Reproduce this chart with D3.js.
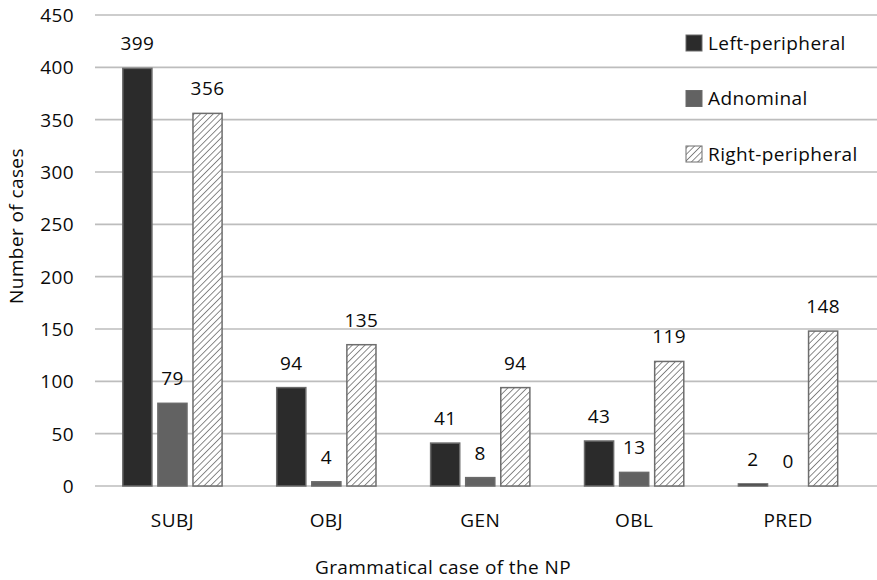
<!DOCTYPE html>
<html><head><meta charset="utf-8">
<script src="https://cdn.jsdelivr.net/npm/d3@7"></script>
<style>body{margin:0;background:#fff}svg{display:block}text{font-family:"Open Sans",sans-serif;fill:#0a0a0a;letter-spacing:0.4px}</style>
</head><body><svg id="c" width="877" height="580"></svg>
<script>
const categories = ["SUBJ","OBJ","GEN","OBL","PRED"];
const seriesNames = ["Left-peripheral","Adnominal","Right-peripheral"];
const leftPeripheral = [399,94,41,43,2];
const adnominal = [79,4,8,13,0];
const rightPeripheral = [356,135,94,119,148];
const yTicks = [0,50,100,150,200,250,300,350,400,450];
const xTitle = "Grammatical case of the NP";
const yTitle = "Number of cases";

const FS = "19px";
const seriesValues = [leftPeripheral, adnominal, rightPeripheral];
const svg = d3.select("#c");
const defs = svg.append("defs");
const pat = defs.append("pattern").attr("id","hatch").attr("patternUnits","userSpaceOnUse")
  .attr("width",4.5).attr("height",4.5).attr("patternTransform","rotate(45)");
pat.append("rect").attr("width",4.5).attr("height",4.5).attr("fill","#fff");
pat.append("line").attr("x1",0).attr("y1",0).attr("x2",0).attr("y2",4.5).attr("stroke","#5a5a5a").attr("stroke-width",1.4);

const fills = ["#2b2b2b","#626262","url(#hatch)"];
const strokes = ["#6a6a6a","#6a6a6a","#6e6e6e"];

const y = d3.scaleLinear().domain([0,450]).range([486,15]);
const x0 = d3.scaleBand().domain(categories).range([95.5,865]).paddingInner(0.355).paddingOuter(0.1775);
const x1 = d3.scaleBand().domain(seriesNames).range([0,x0.bandwidth()]).paddingInner(0.17);

// gridlines
svg.append("g").selectAll("line").data(yTicks).join("line")
  .attr("x1",95).attr("x2",877).attr("y1",d=>y(d)).attr("y2",d=>y(d))
  .attr("stroke","#bdbdbd").attr("stroke-width",1.6);

// y axis labels
const yAxis = d3.axisLeft(y).tickValues(yTicks).tickSize(0).tickPadding(0);
const gy = svg.append("g").attr("transform","translate(74,0)").call(yAxis);
gy.select(".domain").remove();
gy.selectAll("text").style("font-size",FS).attr("dy","0.35em").style("font-family","'Open Sans',sans-serif").attr("fill","#0a0a0a");

// x axis labels
const xAxis = d3.axisBottom(x0).tickSize(0).tickPadding(0);
const gx = svg.append("g").attr("transform","translate(0,513)").call(xAxis);
gx.select(".domain").remove();
gx.selectAll("text").style("font-size",FS).style("font-family","'Open Sans',sans-serif").attr("fill","#0a0a0a");

// bars
const groups = svg.append("g").selectAll("g").data(categories).join("g")
  .attr("transform",d=>`translate(${x0(d)},0)`);
groups.selectAll("rect").data((c,ci)=>seriesNames.map((s,si)=>({s,si,v:seriesValues[si][ci]})))
  .join("rect")
  .filter(d=>d.v>0)
  .attr("x",d=>x1(d.s)).attr("width",x1.bandwidth())
  .attr("y",d=>y(d.v)).attr("height",d=>y(0)-y(d.v))
  .attr("fill",d=>fills[d.si]).attr("stroke",d=>strokes[d.si]).attr("stroke-width",1.5);
groups.selectAll("text.val").data((c,ci)=>seriesNames.map((s,si)=>({s,si,v:seriesValues[si][ci]})))
  .join("text").attr("class","val")
  .attr("x",d=>x1(d.s)+x1.bandwidth()/2).attr("y",d=>y(d.v)-18)
  .attr("text-anchor","middle").style("font-size",FS).text(d=>d.v);

// legend
const leg = svg.append("g").selectAll("g").data(seriesNames).join("g")
  .attr("transform",(d,i)=>`translate(686,${43+i*55.5})`);
leg.append("rect").attr("x",0).attr("y",-8).attr("width",16).attr("height",16)
  .attr("fill",(d,i)=>fills[i]).attr("stroke",(d,i)=>strokes[i]).attr("stroke-width",1);
leg.append("text").attr("x",22).attr("dy","0.35em").style("font-size",FS).text(d=>d);

// titles
svg.append("text").attr("x",443).attr("y",574).attr("text-anchor","middle").style("font-size",FS).text(xTitle);
svg.append("text").attr("transform","translate(23,226) rotate(-90)").attr("text-anchor","middle").style("font-size",FS).text(yTitle);
</script></body></html>
